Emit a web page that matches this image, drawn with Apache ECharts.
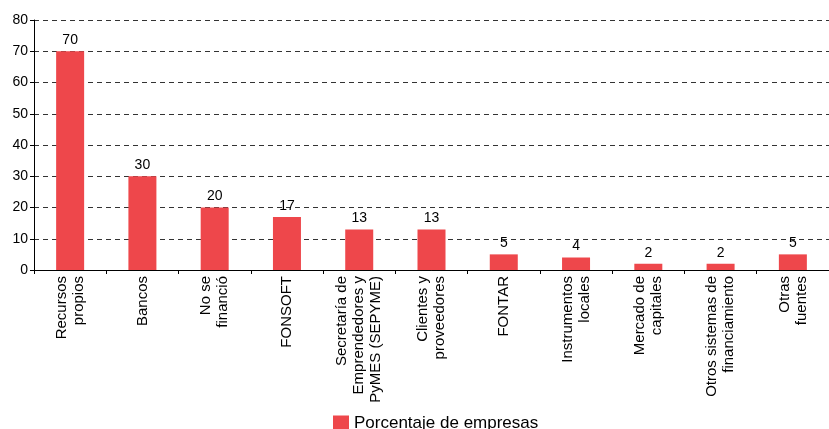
<!DOCTYPE html>
<html><head><meta charset="utf-8">
<script src="https://cdn.jsdelivr.net/npm/echarts@6/dist/echarts.min.js"></script>
<style>html,body{margin:0;padding:0;background:#fff}#c{width:829px;height:429px}</style>
</head><body><div id="c"></div>
<script>
const categories = [
  "Recursos\npropios",
  "Bancos",
  "No se\nfinanció",
  "FONSOFT",
  "Secretaría de\nEmprendedores y\nPyMES (SEPYME)",
  "Clientes y\nproveedores",
  "FONTAR",
  "Instrumentos\nlocales",
  "Mercado de\ncapitales",
  "Otros sistemas de\nfinanciamiento",
  "Otras\nfuentes"
];
const values = [70, 30, 20, 17, 13, 13, 5, 4, 2, 2, 5];
const seriesName = "Porcentaje de empresas";
const yTicks = [0, 10, 20, 30, 40, 50, 60, 70, 80];

const chart = echarts.init(document.getElementById('c'), null, {renderer: 'canvas'});
const font = 'Liberation Sans, Arial, sans-serif';
chart.setOption({
  animation: false,
  backgroundColor: '#fff',
  textStyle: {fontFamily: font},
  grid: {left: 34, top: 20, width: 800, height: 250},
  legend: {
    data: [seriesName],
    left: 328, top: 410,
    icon: 'rect', itemWidth: 16, itemHeight: 16, itemGap: 8,
    textStyle: {fontFamily: font, fontSize: 17, color: '#000'}
  },
  xAxis: {
    type: 'category',
    data: categories,
    boundaryGap: true,
    axisLine: {lineStyle: {color: '#000', width: 1}},
    axisTick: {show: true, length: 4, lineStyle: {color: '#000'}},
    axisLabel: {rotate: 90, interval: 0, margin: 6, color: '#000', fontSize: 15, lineHeight: 17, fontFamily: font, align: 'right'}
  },
  yAxis: {
    type: 'value',
    min: yTicks[0], max: yTicks[yTicks.length - 1], interval: 10,
    axisLine: {show: true, lineStyle: {color: '#000', width: 1}},
    axisTick: {show: true, length: 4, lineStyle: {color: '#000'}},
    axisLabel: {color: '#000', fontSize: 14, margin: 6, fontFamily: font},
    splitLine: {show: true, lineStyle: {color: '#333', type: [5, 4], width: 1}}
  },
  series: [{
    name: seriesName,
    type: 'bar',
    data: values,
    barWidth: 28,
    itemStyle: {color: '#EE474B'},
    label: {show: true, position: 'top', distance: 4, color: '#000', fontSize: 14, fontFamily: font}
  }]
});
</script></body></html>
